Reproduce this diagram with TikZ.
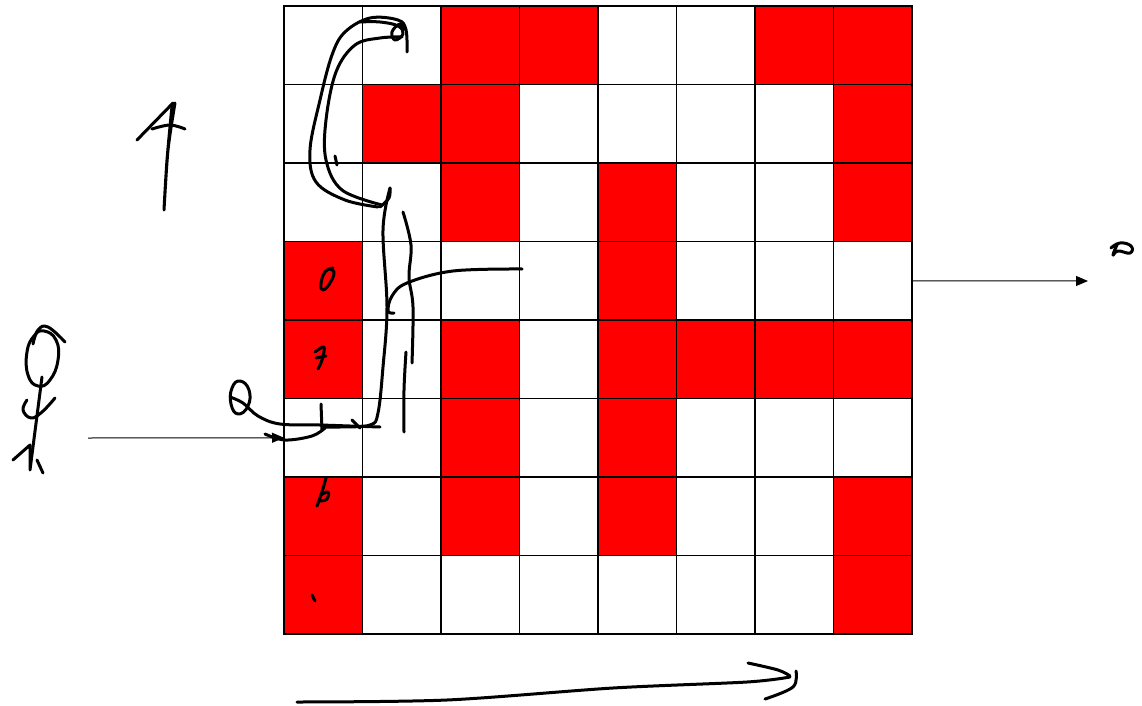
\documentclass[tikz,border=0pt]{standalone}
\usetikzlibrary{arrows.meta}
\begin{document}
\begin{tikzpicture}[x=1pt,y=-1pt,
  cellbox/.style={draw=black,line width=1.5pt,minimum size=78.5pt,inner sep=0pt,outer sep=0pt,anchor=north west,fill=white},
  redcell/.style={cellbox,fill=red},
  conn/.style={line width=1pt,-{Triangle[length=12pt,width=10pt]}},
  scrib/.style={line width=3pt,line cap=round,line join=round}]
\useasboundingbox (0,0) rectangle (1142,706);
% grid
\foreach \r/\row in {0/{0,0,1,1,0,0,1,1},1/{0,1,1,0,0,0,0,1},2/{0,0,1,0,1,0,0,1},3/{1,0,0,0,1,0,0,0},4/{1,0,1,0,1,1,1,1},5/{0,0,1,0,1,0,0,0},6/{1,0,1,0,1,0,0,1},7/{1,0,0,0,0,0,0,1}}{
  \foreach \v [count=\c from 0] in \row {
    \ifnum\v=1
      \node[redcell] (cell-\r-\c) at ({284+\c*78.5},{6+\r*78.5}) {};
    \else
      \node[cellbox] (cell-\r-\c) at ({284+\c*78.5},{6+\r*78.5}) {};
    \fi
  }
}
% arrows
\coordinate (lstart) at (88,438);
\coordinate (rend) at (1088,281);
\draw[conn] (lstart) -- (cell-5-0.west);
\draw[conn] (cell-3-7.east) -- (rend);
% scribbles
% big C loop
\draw[scrib] plot[smooth,tension=0.6] coordinates {(407,52) (406,30) (398,20) (370,18) (345,32) (332,55) (320,100) (310,150) (316,182) (345,200) (378,207)};
\draw[scrib] plot[smooth,tension=0.6] coordinates {(402,37) (380,38) (355,45) (336,72) (326,120) (326,160) (342,190) (382,205)};
\draw[scrib] plot[smooth,tension=0.7] coordinates {(360,22) (380,22) (398,26) (403,34) (395,40) (392,32) (400,24) (406,30)};
\draw[scrib] (335,156) -- (337,165);
\draw[scrib] plot[smooth,tension=0.6] coordinates {(390,188) (389,198) (380,207)};
% long vertical stroke
\draw[scrib] plot[smooth,tension=0.6] coordinates {(390,188) (383,230) (387,307) (383,367) (378,413) (370,425) (340,427) (322,427)};
% Q loop and tail
\draw[scrib] plot[smooth cycle,tension=0.8] coordinates {(240,381) (249,390) (248,406) (238,414) (231,404) (232,388)};
\draw[scrib] plot[smooth,tension=0.6] coordinates {(230,397) (243,403) (258,416) (280,424) (320,425) (350,426) (380,427)};
\draw[scrib] plot[smooth,tension=0.6] coordinates {(265,434) (285,440) (312,436) (325,428)};
\draw[scrib] (321,404) -- (322,430);
\draw[scrib] (352,420) -- (360,428);
% second vertical strokes
\draw[scrib] plot[smooth,tension=0.6] coordinates {(403,212) (411,245) (409,277) (413,307) (412,363)};
\draw[scrib] plot[smooth,tension=0.6] coordinates {(406,352) (404,390) (404,432)};
% horizontal curve
\draw[scrib] plot[smooth,tension=0.6] coordinates {(394,313) (388,311) (392,296) (407,283) (453,271) (522,269)};
% digits in cells
\draw[scrib] plot[smooth,tension=0.8] coordinates {(333,268) (325,272) (321,284) (323,290) (330,283) (334,272) (328,269)};
\draw[scrib] plot[smooth,tension=0.6] coordinates {(315,352) (324,347) (322,360) (318,369)};
\draw[scrib] (316,358) -- (326,356);
\draw[scrib] plot[smooth,tension=0.6] coordinates {(326,478) (322,492) (317,506)};
\draw[scrib] plot[smooth,tension=0.8] coordinates {(321,495) (328,492) (327,499) (320,501)};
\draw[scrib] (312,595) -- (315,601);
% 4 at left
\draw[scrib] (137,140) -- (173,103);
\draw[scrib] plot[smooth,tension=0.5] coordinates {(175,103) (168,150) (164,210) (167,160) (172,106)};
\draw[scrib] plot[smooth,tension=0.6] coordinates {(152,129) (170,125) (185,129)};
% figure
\draw[scrib] plot[smooth cycle,tension=0.8] coordinates {(44,331) (56,340) (58,360) (50,380) (38,386) (28,375) (27,352) (34,336)};
\draw[scrib] plot[smooth,tension=0.7] coordinates {(33,344) (38,330) (48,327) (65,342)};
\draw[scrib] (42,377) -- (30,470);
\draw[scrib] plot[smooth,tension=0.7] coordinates {(55,398) (42,412) (31,418) (23,410) (27,400)};
\draw[scrib] (13,460) -- (30,445) -- (30,467);
\draw[scrib] (37,460) -- (43,473);
% bottom long stroke
\draw[scrib] plot[smooth,tension=0.5] coordinates {(297,702) (447,700) (613,688) (747,682) (790,677)};
\draw[scrib] plot[smooth,tension=0.6] coordinates {(748,663) (778,670) (790,676)};
\draw[scrib] plot[smooth,tension=0.6] coordinates {(796,671) (793,687) (765,699)};
% small mark at right
\draw[scrib] plot[smooth,tension=0.8] coordinates {(1111,248) (1120,243) (1131,246) (1130,253) (1118,251) (1113,255) (1117,245)};
\end{tikzpicture}
\end{document}
